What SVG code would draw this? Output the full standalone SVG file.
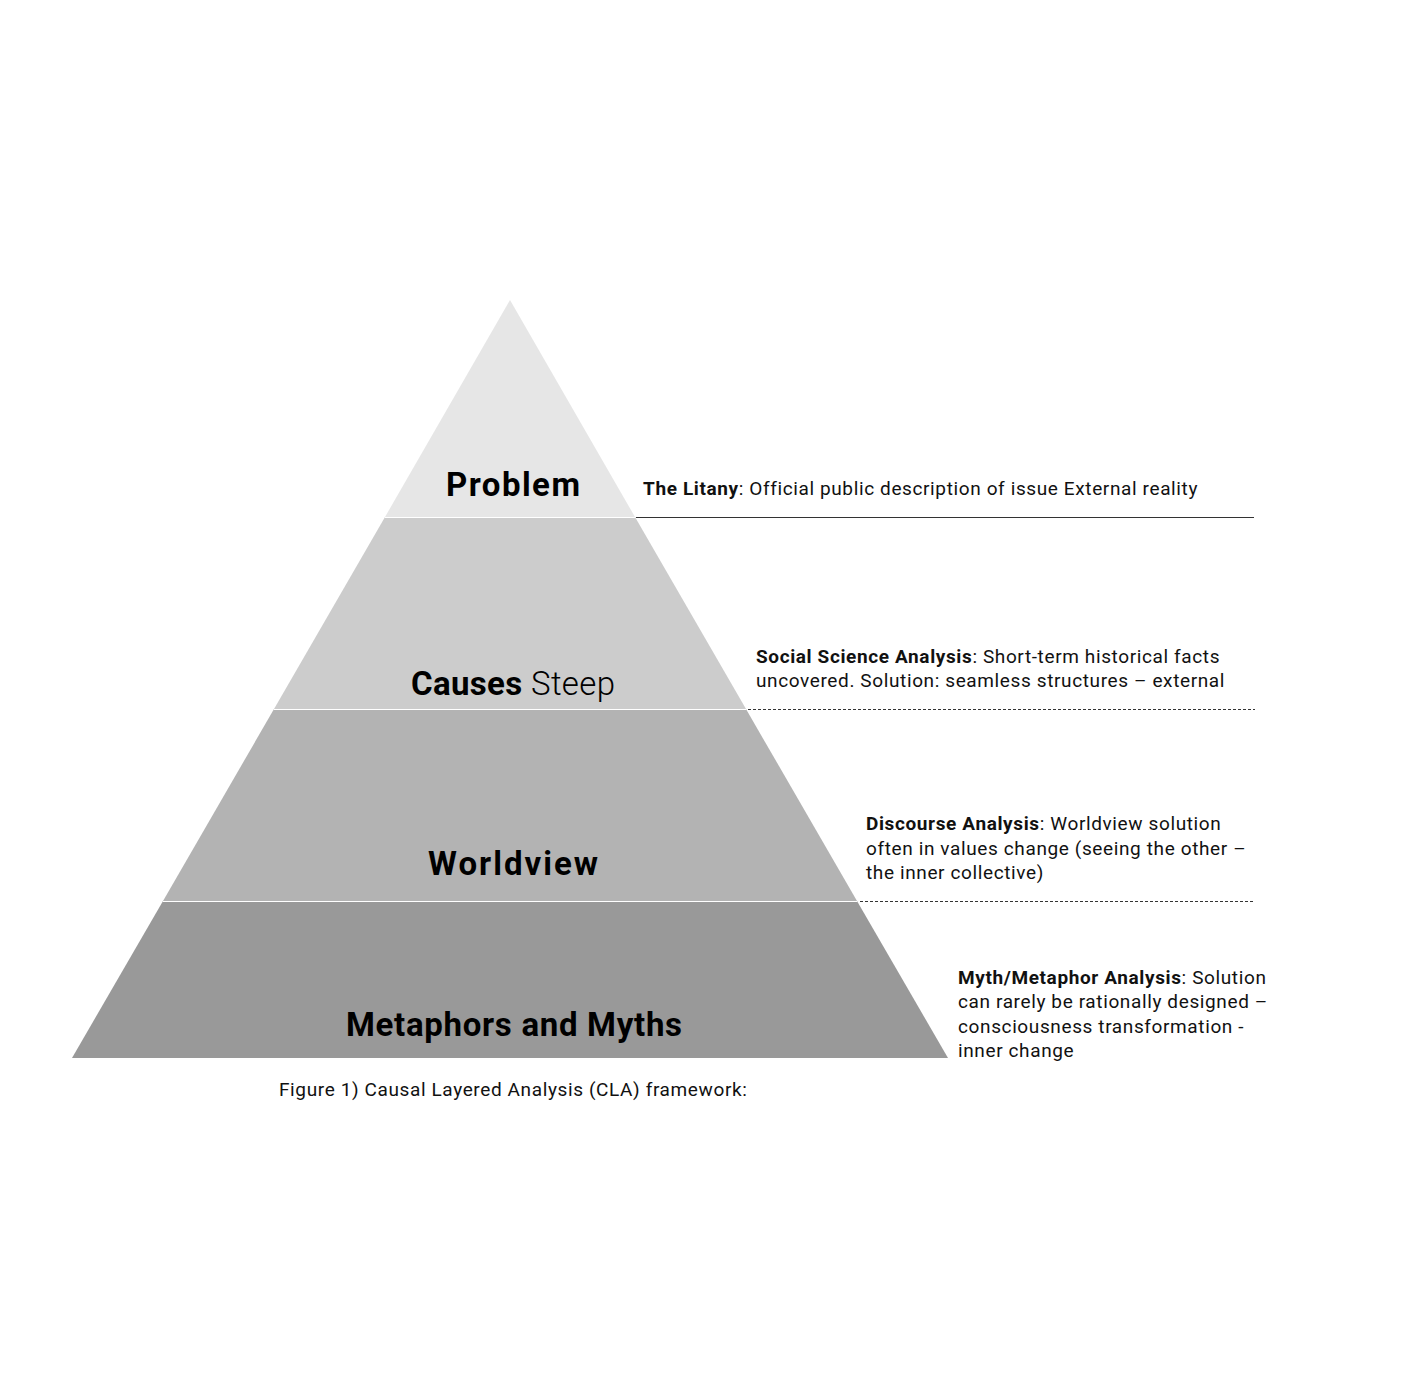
<svg xmlns="http://www.w3.org/2000/svg" width="1401" height="1400" viewBox="0 0 1401 1400">
<style>
.lbl{font-family:Roboto,"Liberation Sans",sans-serif;font-weight:700;font-size:33px;fill:#000}
.lt{font-weight:300}
.txt{font-family:Roboto,"Liberation Sans",sans-serif;font-size:19px;fill:#111;letter-spacing:0.62px}
.b{font-weight:700}
.sep{stroke:#fff;stroke-width:1.2}
.dot{stroke:#333;stroke-width:1;stroke-dasharray:3 2;fill:none}
</style>
<rect width="1401" height="1400" fill="#fff"/>
<g id="layer-problem">
<polygon points="510,300 635,517 385,517" fill="#e6e6e6"/>
<text class="lbl" x="446" y="496" textLength="134" lengthAdjust="spacing">Problem</text>
</g>
<g id="layer-causes">
<polygon points="385,517 635,517 746,709 274,709" fill="#cccccc"/>
<text class="lbl" x="411" y="695" textLength="204" lengthAdjust="spacing">Causes <tspan class="lt">Steep</tspan></text>
</g>
<g id="layer-worldview">
<polygon points="274,709 746,709 857,901 163,901" fill="#b3b3b3"/>
<text class="lbl" x="428" y="875" textLength="170" lengthAdjust="spacing">Worldview</text>
</g>
<g id="layer-myths">
<polygon points="163,901 857,901 948,1058 72,1058" fill="#999999"/>
<text class="lbl" x="346" y="1036" textLength="336" lengthAdjust="spacing">Metaphors and Myths</text>
</g>
<g id="separators">
<line class="sep" x1="385" y1="517.5" x2="635" y2="517.5"/>
<line class="sep" x1="274" y1="709.5" x2="746" y2="709.5"/>
<line class="sep" x1="163" y1="901.5" x2="857" y2="901.5"/>
</g>
<g id="connectors">
<line x1="636" y1="517.5" x2="1254" y2="517.5" stroke="#333" stroke-width="1"/>
<line class="dot" x1="748" y1="709.5" x2="1255" y2="709.5"/>
<line class="dot" x1="860" y1="901.5" x2="1255" y2="901.5"/>
</g>
<g id="desc-litany">
<text class="txt" x="643" y="495"><tspan class="b">The Litany</tspan>: Official public description of issue External reality</text>
</g>
<g id="desc-social">
<text class="txt" x="756" y="663"><tspan class="b">Social Science Analysis</tspan>: Short-term historical facts</text>
<text class="txt" x="756" y="687">uncovered. Solution: seamless structures – external</text>
</g>
<g id="desc-discourse">
<text class="txt" x="866" y="830"><tspan class="b">Discourse Analysis</tspan>: Worldview solution</text>
<text class="txt" x="866" y="855">often in values change (seeing the other –</text>
<text class="txt" x="866" y="879">the inner collective)</text>
</g>
<g id="desc-myth">
<text class="txt" x="958" y="984"><tspan class="b">Myth/Metaphor Analysis</tspan>: Solution</text>
<text class="txt" x="958" y="1008">can rarely be rationally designed –</text>
<text class="txt" x="958" y="1033">consciousness transformation -</text>
<text class="txt" x="958" y="1057">inner change</text>
</g>
<text class="txt" x="279" y="1096">Figure 1) Causal Layered Analysis (CLA) framework:</text>
</svg>
